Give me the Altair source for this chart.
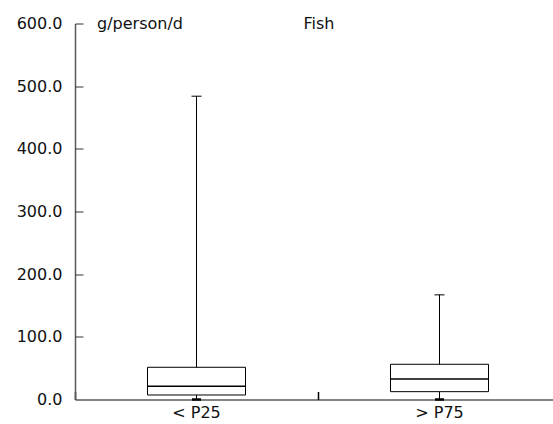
import altair as alt
import pandas as pd

categories = ["< P25", "> P75"]
minimum = [0.0, 0.0]
q1 = [7.2, 12.5]
median = [21.1, 32.7]
q3 = [51.4, 56.2]
maximum = [484.0, 167.0]
y_ticks = [0, 100, 200, 300, 400, 500, 600]
unit_label = "g/person/d"
panel_label = "Fish"

df = pd.DataFrame(dict(cat=categories, lo=minimum, q1=q1, med=median, q3=q3, hi=maximum))

W, H = 478, 376
FONT = "DejaVu Sans"
AXC = "#5a5a5a"

xscale = alt.Scale(domain=categories, range=[0, 486], paddingInner=0, paddingOuter=0)
yscale = alt.Scale(domain=[0, 600], nice=False, zero=True)

x_main = alt.X("cat:N", scale=xscale, sort=categories, title=None,
               axis=alt.Axis(orient="bottom", ticks=False, labelAngle=0, labelPadding=5,
                             labelFont=FONT, labelFontSize=16, labelColor="#111",
                             domainColor=AXC, domainWidth=1.5, grid=False))
y_main = alt.Y("lo:Q", scale=yscale, title=None,
               axis=alt.Axis(orient="left", values=y_ticks, format=".1f", ticks=False,
                             labelPadding=13, labelFont=FONT, labelFontSize=16, labelColor="#111",
                             domainColor=AXC, domainWidth=1.5, grid=False))

x_top = alt.X("cat:N", scale=xscale, sort=categories, title=None,
              axis=alt.Axis(orient="top", offset=-H, tickBand="extent", labels=False,
                            domain=False, ticks=True, tickSize=8, tickColor="#000",
                            tickWidth=1.5, grid=False))
y_right = alt.Y("q1:Q", scale=yscale, title=None,
                axis=alt.Axis(orient="right", offset=-W, values=y_ticks[1:], labels=False,
                              domain=False, ticks=True, tickSize=8, tickColor="#333",
                              tickWidth=1, grid=False))

base = alt.Chart(df)

whisker = base.mark_rule(color="#000", strokeWidth=1).encode(x=x_main, y=y_main, y2="hi:Q")
box = base.mark_bar(size=98, fill="white", stroke="#000", strokeWidth=1).encode(
    x=x_top, y=y_right, y2="q3:Q")
med = base.mark_tick(size=98, thickness=1.5, color="#000", opacity=1).encode(
    x=alt.X("cat:N", scale=xscale, axis=None), y=alt.Y("med:Q", scale=yscale, axis=None))
cap_hi = base.mark_tick(size=10, thickness=1, color="#000", opacity=1).encode(
    x=alt.X("cat:N", scale=xscale, axis=None), y=alt.Y("hi:Q", scale=yscale, axis=None))
cap_lo = base.mark_tick(size=9, thickness=2.5, color="#000", opacity=1).encode(
    x=alt.X("cat:N", scale=xscale, axis=None), y=alt.Y("lo:Q", scale=yscale, axis=None))

t1 = alt.Chart(pd.DataFrame({"t": [unit_label]})).mark_text(
    align="left", baseline="middle", font=FONT, fontSize=16, color="#111"
).encode(text="t:N", x=alt.value(22), y=alt.value(0.5))
t2 = alt.Chart(pd.DataFrame({"t": [panel_label]})).mark_text(
    align="center", baseline="middle", font=FONT, fontSize=16, color="#111"
).encode(text="t:N", x=alt.value(244), y=alt.value(0.5))

chart = alt.layer(whisker, box, med, cap_hi, cap_lo, t1, t2).resolve_axis(
    x="independent", y="independent"
).properties(
    width=W, height=H,
    autosize=alt.AutoSizeParams(type="none"),
    padding={"left": 75, "top": 23.5, "right": 0, "bottom": 24.5},
    background="white",
).configure_view(stroke=None)

chart.save("out.html", embed_options={"renderer": "svg", "actions": False})
